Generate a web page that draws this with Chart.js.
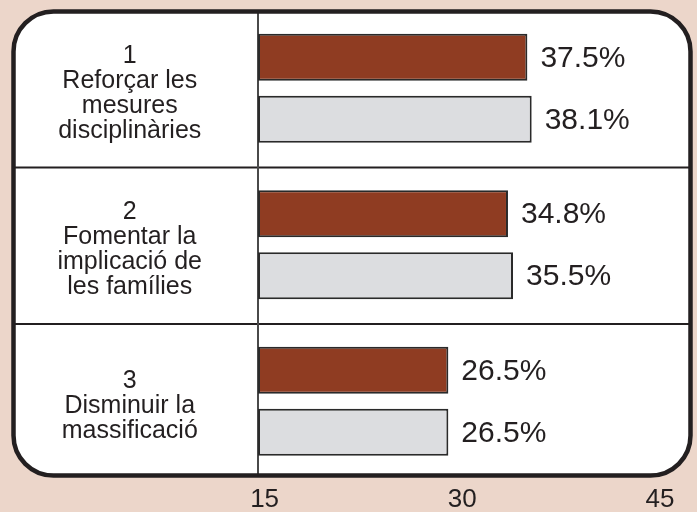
<!DOCTYPE html>
<html>
<head>
<meta charset="utf-8">
<script src="https://cdn.jsdelivr.net/npm/chart.js@4.4.1/dist/chart.umd.min.js"></script>
<style>
html, body { margin: 0; padding: 0; background: #ecd6ca; overflow: hidden; }
canvas { display: block; }
</style>
</head>
<body>
<canvas id="chart" width="697" height="512"></canvas>
<script>
var categories = [
  ['1', 'Reforçar les', 'mesures', 'disciplinàries'],
  ['2', 'Fomentar la', 'implicació de', 'les famílies'],
  ['3', 'Disminuir la', 'massificació']
];
var seriesA = [37.5, 34.8, 26.5];
var seriesB = [38.1, 35.5, 26.5];
var xTickLabels = [15, 30, 45];

var ink = '#231f20';
Chart.defaults.font.family = '"Liberation Sans", Arial, sans-serif';
Chart.defaults.color = ink;

function boxPath(c, x, y, w, h, r) {
  c.beginPath();
  c.moveTo(x + r, y);
  c.lineTo(x + w - r, y);
  c.arcTo(x + w, y, x + w, y + r, r);
  c.lineTo(x + w, y + h - r);
  c.arcTo(x + w, y + h, x + w - r, y + h, r);
  c.lineTo(x + r, y + h);
  c.arcTo(x, y + h, x, y + h - r, r);
  c.lineTo(x, y + r);
  c.arcTo(x, y, x + r, y, r);
  c.closePath();
}

function boxOf(chart) {
  var a = chart.chartArea;
  return { l: 13.5, t: a.top + 1.5, r: a.right + 1.5, b: a.bottom - 4 };
}

var frame = {
  id: 'frame',
  beforeDraw: function(chart) {
    var c = chart.ctx, b = boxOf(chart);
    c.save();
    c.fillStyle = '#ecd6ca';
    c.fillRect(0, 0, chart.width, chart.height);
    boxPath(c, b.l, b.t, b.r - b.l, b.b - b.t, 40);
    c.fillStyle = '#ffffff';
    c.fill();
    c.restore();
  },
  beforeDatasetsDraw: function(chart) {
    var c = chart.ctx, b = boxOf(chart);
    var ys = chart.scales.y, xs = chart.scales.x;
    c.save();
    c.strokeStyle = ink;
    c.lineWidth = 2;
    for (var i = 1; i < categories.length; i++) {
      var py = (ys.getPixelForValue(i - 1) + ys.getPixelForValue(i)) / 2 + 1;
      c.beginPath();
      c.moveTo(b.l, py);
      c.lineTo(b.r, py);
      c.stroke();
    }
    var px = xs.getPixelForValue(0);
    c.strokeStyle = '#4a4a4a';
    c.beginPath();
    c.moveTo(px, b.t);
    c.lineTo(px, b.b);
    c.stroke();
    c.restore();
  },
  afterDatasetsDraw: function(chart) {
    var c = chart.ctx;
    c.save();
    c.font = '30px "Liberation Sans", Arial, sans-serif';
    c.fillStyle = ink;
    c.textAlign = 'left';
    c.textBaseline = 'middle';
    chart.data.datasets.forEach(function(ds, di) {
      chart.getDatasetMeta(di).data.forEach(function(bar, i) {
        c.fillText(ds.data[i].toFixed(1) + '%', bar.x + 13, bar.y + 1);
      });
    });
    c.restore();
  },
  afterDraw: function(chart) {
    var c = chart.ctx, b = boxOf(chart);
    c.save();
    boxPath(c, b.l, b.t, b.r - b.l, b.b - b.t, 40);
    c.strokeStyle = ink;
    c.lineWidth = 4.5;
    c.stroke();
    c.restore();
  }
};

new Chart(document.getElementById('chart'), {
  type: 'bar',
  data: {
    labels: categories,
    datasets: [
      { data: seriesA, backgroundColor: '#8f3c22', borderColor: '#2a2a2a', borderWidth: 2, borderSkipped: false },
      { data: seriesB, backgroundColor: '#dcdde0', borderColor: '#2a2a2a', borderWidth: 2, borderSkipped: false }
    ]
  },
  options: {
    indexAxis: 'y',
    responsive: false,
    animation: false,
    layout: { padding: { top: 10, right: 8, bottom: 0, left: 0 } },
    categoryPercentage: 0.792,
    barPercentage: 0.758,
    plugins: { legend: { display: false }, tooltip: { enabled: false } },
    scales: {
      x: { display: false, min: 0, max: 60 },
      x2: {
        type: 'linear',
        position: 'bottom',
        min: 14.5,
        max: 47.2,
        grid: { display: false, drawTicks: false },
        border: { display: false },
        afterBuildTicks: function(s) { s.ticks = xTickLabels.map(function(v) { return { value: v }; }); },
        afterFit: function(s) { s.height = 32.5; s.paddingLeft = 0; s.paddingRight = 0; },
        ticks: { autoSkip: false, maxRotation: 0, padding: 5, color: ink, font: { size: 26 } }
      },
      y: {
        grid: { display: false, drawTicks: false },
        border: { display: false },
        afterFit: function(s) { s.width = 258; s.paddingTop = 0; s.paddingBottom = 0; },
        ticks: {
          crossAlign: 'center',
          padding: 56,
          labelOffset: 5,
          color: ink,
          font: { size: 25, lineHeight: '25px' }
        }
      }
    }
  },
  plugins: [frame]
});
</script>
</body>
</html>
